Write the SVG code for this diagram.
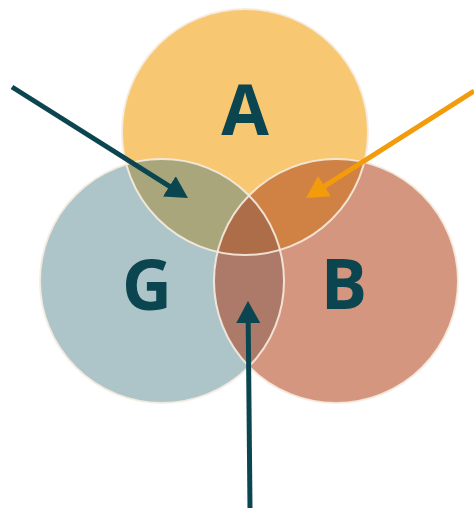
<svg xmlns="http://www.w3.org/2000/svg" width="474" height="508" viewBox="0 0 474 508">
  <style>
    .lbl { font-family: "Open Sans", "Liberation Sans", sans-serif; font-weight: 700; font-size: 69px; fill: #0B4650; text-anchor: middle; }
    .rim { fill: none; stroke: #F6ECE0; stroke-width: 2; stroke-opacity: 0.9; }
    .conn { fill: none; stroke-width: 5; }
  </style>
  <defs>
    <clipPath id="clipA"><circle cx="245" cy="132" r="123"/></clipPath>
    <clipPath id="clipG"><circle cx="162" cy="281" r="122"/></clipPath>
    <marker id="headDark" viewBox="0 0 22 24" refX="12" refY="12" markerWidth="22" markerHeight="24" markerUnits="userSpaceOnUse" orient="auto">
      <path d="M0,0 L22,12 L0,24 z" fill="#0B4650"/>
    </marker>
    <marker id="headOrange" viewBox="0 0 22 24" refX="12" refY="12" markerWidth="22" markerHeight="24" markerUnits="userSpaceOnUse" orient="auto">
      <path d="M0,0 L22,12 L0,24 z" fill="#F29B0B"/>
    </marker>
  </defs>

  <g id="node-A">
    <circle cx="245" cy="132" r="123" fill="#F7C772"/>
  </g>
  <g id="node-G">
    <circle cx="162" cy="281" r="122" fill="#ADC4C9"/>
  </g>
  <g id="node-B">
    <circle cx="336" cy="281" r="122" fill="#D4967F"/>
  </g>
  <g id="overlaps">
    <g clip-path="url(#clipA)"><circle cx="162" cy="281" r="122" fill="#A8A67A"/></g>
    <g clip-path="url(#clipA)"><circle cx="336" cy="281" r="122" fill="#D08244"/></g>
    <g clip-path="url(#clipG)"><circle cx="336" cy="281" r="122" fill="#AD7A6A"/></g>
    <g clip-path="url(#clipA)"><g clip-path="url(#clipG)"><circle cx="336" cy="281" r="122" fill="#AC6D48"/></g></g>
  </g>
  <g id="rims">
    <circle class="rim" cx="245" cy="132" r="123"/>
    <circle class="rim" cx="162" cy="281" r="122"/>
    <circle class="rim" cx="336" cy="281" r="122"/>
  </g>
  <g id="labels">
    <text class="lbl" x="245" y="135">A</text>
    <text class="lbl" x="147" y="310">G</text>
    <text class="lbl" x="344" y="309">B</text>
  </g>

  <g id="connectors">
    <line class="conn" x1="12" y1="87" x2="179.5" y2="192.7" stroke="#0B4650" marker-end="url(#headDark)"/>
    <line class="conn" x1="474" y1="91" x2="314.4" y2="192.6" stroke="#F29B0B" marker-end="url(#headOrange)"/>
    <line class="conn" x1="250" y1="508" x2="248.1" y2="311" stroke="#0B4650" marker-end="url(#headDark)"/>
  </g>
</svg>
